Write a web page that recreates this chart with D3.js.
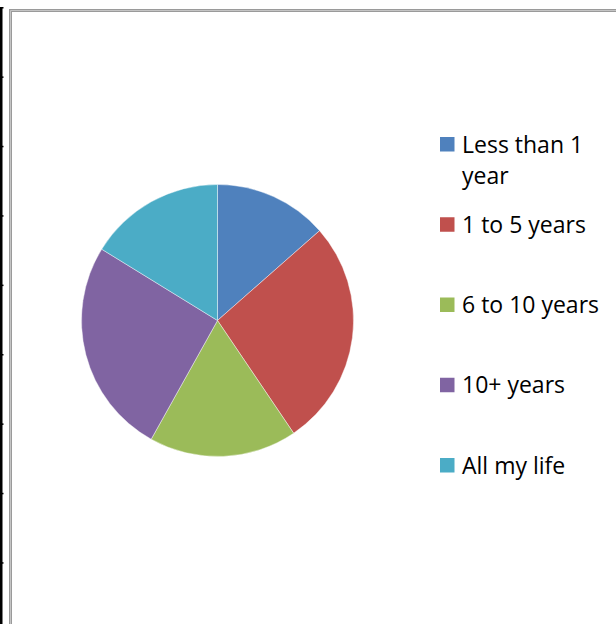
<!DOCTYPE html>
<html><head><meta charset="utf-8">
<script src="https://cdn.jsdelivr.net/npm/d3@7"></script>
<style>html,body{margin:0;padding:0;background:#fff;}svg{display:block;}</style>
</head><body>
<script>
const categories = ["Less than 1 year", "1 to 5 years", "6 to 10 years", "10+ years", "All my life"];
const legendLines = [["Less than 1", "year"], ["1 to 5 years"], ["6 to 10 years"], ["10+ years"], ["All my life"]];
const values = [10, 20, 13, 19, 12];
const colors = ["#4F81BD", "#C0504D", "#9BBB59", "#8064A2", "#4BACC6"];

const W = 616, H = 624;
const svg = d3.select("body").append("svg").attr("width", W).attr("height", H);
svg.append("rect").attr("width", W).attr("height", H).attr("fill", "#fff");

// left black rule with small ticks (spreadsheet edge)
svg.append("rect").attr("x", 0).attr("y", 7).attr("width", 2.5).attr("height", H - 7).attr("fill", "#000");
d3.range(9).forEach(i => {
  svg.append("rect").attr("x", 0).attr("y", 7 + i * 69.4).attr("width", 3.5).attr("height", 1.5).attr("fill", "#000");
});

// chart frame
const frame = d => `M${d},${H} V${d} H${W}`;
svg.append("path").attr("d", frame(10.5)).attr("fill", "none").attr("stroke", "#9a9a9a").attr("stroke-width", 3);
svg.append("path").attr("d", frame(10.5)).attr("fill", "none").attr("stroke", "#c4c4c4").attr("stroke-width", 1);

// pie
const cx = 217.5, cy = 320.5, r = 136;
const pie = d3.pie().sort(null).value(d => d)(values);
const arc = d3.arc().innerRadius(0).outerRadius(r);
svg.append("g").attr("transform", `translate(${cx},${cy})`)
  .selectAll("path").data(pie).join("path")
  .attr("d", arc)
  .attr("fill", (d, i) => colors[i])
  .attr("stroke", "#ffffff").attr("stroke-width", 0.6).attr("stroke-opacity", 0.7);

// legend
const lg = svg.append("g");
const itemY = d3.scalePoint().domain(categories).range([137, 458]);
categories.forEach((c, i) => {
  const y = itemY(c);
  lg.append("rect").attr("x", 440).attr("y", y).attr("width", 14.5).attr("height", 14.5).attr("fill", colors[i]);
  const t = lg.append("text").attr("x", 462).attr("y", y + 15.5)
    .attr("font-family", "'Open Sans', sans-serif").attr("font-size", 23).attr("fill", "#000");
  legendLines[i].forEach((ln, j) => {
    t.append("tspan").attr("x", 462).attr("dy", j === 0 ? 0 : 31).text(ln);
  });
});
</script>
</body></html>
